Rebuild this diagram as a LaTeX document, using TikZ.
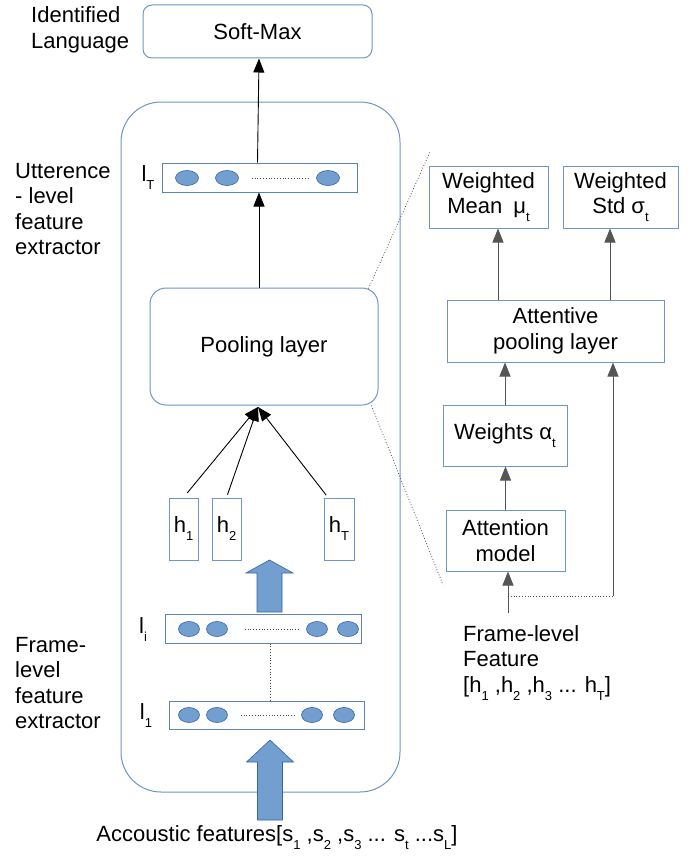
\documentclass[tikz,border=0pt]{standalone}
\usepackage{fontspec}
\setmainfont{Liberation Sans}
\usetikzlibrary{arrows.meta,shapes.geometric,positioning}
\definecolor{boxblue}{HTML}{7094C8}
\definecolor{nfill}{HTML}{729FCF}
\definecolor{nedge}{HTML}{3465A4}
\definecolor{arrgray}{HTML}{555555}
\newcommand{\lowsub}[1]{\raisebox{-8pt}{\fontsize{13}{13}\selectfont #1}}
% flecha bloque: punta, largo, largo de la punta
\newcommand{\blockup}[3]{\draw [bigarr, shift={(#1)}] (-12.5,#2) -- (-12.5,#3) -- (-23.5,#3) -- (0,0) -- (23.5,#3) -- (12.5,#3) -- (12.5,#2) -- cycle;}

\begin{document}
\begin{tikzpicture}[x=1pt, y=-1pt, font=\fontsize{22}{25.5}\selectfont,
  blk/.style={draw=boxblue, line width=1pt, fill=white, align=center, inner sep=0pt},
  layer/.style={draw=nedge!80, line width=1pt, fill=white, minimum height=29, inner sep=0pt},
  neuron/.style={ellipse, draw=nedge, fill=nfill, line width=0.6pt, minimum width=21, minimum height=15, inner sep=0pt},
  bigarr/.style={draw=nedge, fill=nfill, line width=0.6pt, line join=miter},
  arr/.style={-{Triangle[length=14pt,width=11pt]}, line width=0.9pt},
  arrg/.style={arr, draw=arrgray},
  dotline/.style={dotted, line width=0.8pt, draw=black!70},
  lbl/.style={align=left, anchor=west, inner sep=0pt}]
\useasboundingbox (0,0) rectangle (697,859);
% Nodos
\node [blk, rounded corners=40, minimum width=279, minimum height=690] (extractor) at (260.5,447) {};
\node [blk, rounded corners=9, minimum width=229, minimum height=53] (softmax) at (257.5,31.5) {Soft-Max};
\node [lbl] (idlang) at (31,30) {Identified\\Language};
\node [lbl] (uttlbl) at (15,209) {Utterence\\- level\\feature\\extractor};
\node [lbl] (framelbl) at (15,683) {Frame-\\level\\feature\\extractor};

% l_T
\node [layer, minimum width=195] (lT) at (259.5,177.5) {};
\node [inner sep=0pt] (lTlbl) at (148,178) {l\lowsub{T}};
\foreach \x [count=\i] in {187,227,328}
  \node [neuron, minimum width=23] (tn\i) at (\x,178) {};
\draw [dotline, shorten <=13pt, shorten >=8pt] (tn2) -- (tn3);

% pooling
\node [blk, rounded corners=16, minimum width=228, minimum height=117] (pool) at (264,346.5) {Pooling layer};

% h
\node [blk, minimum width=29, minimum height=62] (h1) at (183.5,529) {h\lowsub{1}};
\node [blk, minimum width=29, minimum height=62] (h2) at (226.5,529) {h\lowsub{2}};
\node [blk, minimum width=30, minimum height=62] (hT) at (339,529) {h\lowsub{T}};

% l_i, l_1
\node [layer, minimum width=196] (li) at (263,628.5) {};
\node [inner sep=0pt] (lilbl) at (143,630) {l\lowsub{i}};
\foreach \x [count=\i] in {189,217,317,348}
  \node [neuron] (in\i) at (\x,629) {};
\draw [dotline, shorten <=17pt, shorten >=7pt] (in2) -- (in3);
\node [layer, minimum width=195, minimum height=28] (l1) at (266.5,715) {};
\node [inner sep=0pt] (l1lbl) at (146,716) {l\lowsub{1}};
\foreach \x [count=\i] in {189,217,312,344}
  \node [neuron] (on\i) at (\x,715) {};
\draw [dotline, shorten <=13pt, shorten >=7pt] (on2) -- (on3);
\draw [dotline] (li.south -| 270,0) -- (l1.north -| 270,0);

% flechas bloque
\coordinate (up1) at (269.5,560);
\coordinate (up2) at (270,740);
\blockup{up1}{52}{13}
\blockup{up2}{80}{22}
\node (acc) at (277,838) {Accoustic features[s\lowsub{1} ,s\lowsub{2} ,s\lowsub{3} ... s\lowsub{t} ...s\lowsub{L}]};

% Ejes
\draw [arr] (softmax.south |- lT.north) -- (softmax.south -| 259,0);
\draw [arr] (pool.north -| 259,0) -- (lT.south -| 259,0);
\coordinate (meet) at (258,407);
\draw [arr, shorten <=6pt] (h1.north) -- (meet);
\draw [arr, shorten <=3pt] (h2.north) -- (meet);
\draw [arr, shorten <=3pt] ([xshift=-11pt]hT.north) -- (meet);

% lado derecho
\node [blk, minimum width=119, minimum height=62] (mean) at (488.5,197) {Weighted\\Mean\enspace μ\lowsub{t}};
\node [blk, minimum width=115, minimum height=62] (std) at (620.5,197) {Weighted\\Std σ\lowsub{t}};
\node [blk, minimum width=217, minimum height=62] (att) at (555.5,331) {Attentive\\pooling layer};
\node [blk, minimum width=124, minimum height=61] (weights) at (505,435.5) {Weights α\lowsub{t}};
\node [blk, minimum width=119, minimum height=61] (attmodel) at (505.5,540.5) {Attention\\model};
\node [lbl] (framefeat) at (463,663) {Frame-level\\Feature\\{}[h\lowsub{1} ,h\lowsub{2} ,h\lowsub{3} ... h\lowsub{T}]};

\draw [arrg] ([xshift=-57.5pt]att.north) -- ([xshift=-57.5pt]att.north |- mean.south);
\draw [arrg] ([xshift=54.5pt]att.north) -- ([xshift=54.5pt]att.north |- std.south);
\draw [arrg] (weights.north) -- (weights.north |- att.south);
\draw [arrg] (attmodel.north) -- (attmodel.north |- weights.south);
\coordinate (fin) at (508,613);
\coordinate (split) at (508,596);
\coordinate (corner) at (613,596);
\draw [arrg] (fin) -- (fin |- attmodel.south);
\draw [dotline] (split) -- (corner);
\draw [arrg] (corner) -- (corner |- att.south);

% zoom
\coordinate (zoomtop) at (430,152);
\coordinate (zoombot) at (443,585);
\draw [dotline] ([xshift=-10pt,yshift=-1pt]pool.north east) -- (zoomtop);
\draw [dotline] ([xshift=-7pt]pool.south east) -- (zoombot);
\end{tikzpicture}
\end{document}
